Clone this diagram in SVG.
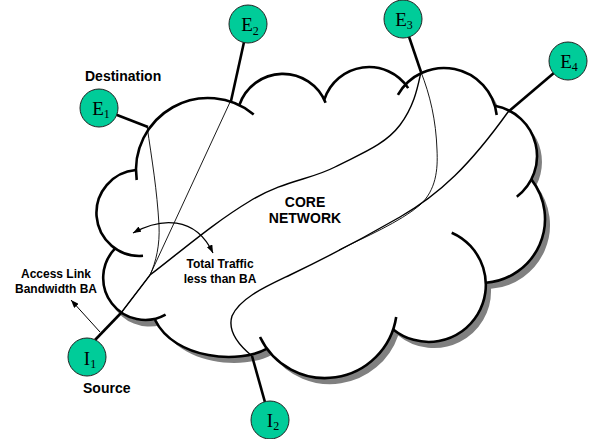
<svg xmlns="http://www.w3.org/2000/svg" width="596" height="439" viewBox="0 0 596 439">
<defs>
<style>
.lobe{fill:none;stroke:#000;stroke-width:2.6}
.link{stroke:#000;stroke-width:2.6;fill:none}
.thin{fill:none;stroke:#000;stroke-width:0.9}
.mid{fill:none;stroke:#000;stroke-width:1.4}
.node circle{fill:#00CC99;stroke:#222;stroke-width:1}
.nl{font-family:"Liberation Serif","Times New Roman",serif;font-size:19px;fill:#000;text-anchor:middle}
.sub{font-size:12px}
.lbl{font-family:"Liberation Sans",Arial,sans-serif;font-weight:bold;fill:#000}
.big{font-size:14px}
.small{font-size:12px}
.mc{text-anchor:middle}
</style>
<marker id="ah" viewBox="0 0 8 6" refX="8" refY="3" markerWidth="8" markerHeight="6" markerUnits="userSpaceOnUse" orient="auto-start-reverse"><path d="M0,0 L8,3 L0,6 z" fill="#000"/></marker>
</defs>

<g id="cloud">
<path transform="translate(5,6)" fill="#808080" d="M136,170 A72,72 0 0 1 239.3,105.2 A46,46 0 0 1 324.3,99.6 A47,47 0 0 1 405.6,84.4 A53,53 0 0 1 494.8,105.8 A51,51 0 0 1 531.3,179.4 A64,64 0 0 1 486,282.8 A57,57 0 0 1 393.2,329.4 A72,72 0 0 1 267,348.7 C240,364 175,360 156,319 A42,42 0 0 1 115,248.7 A43,43 0 0 1 136,170 Z"/>
<path fill="#fff" d="M136,170 A72,72 0 0 1 239.3,105.2 A46,46 0 0 1 324.3,99.6 A47,47 0 0 1 405.6,84.4 A53,53 0 0 1 494.8,105.8 A51,51 0 0 1 531.3,179.4 A64,64 0 0 1 486,282.8 A57,57 0 0 1 393.2,329.4 A72,72 0 0 1 267,348.7 C240,364 175,360 156,319 A42,42 0 0 1 115,248.7 A43,43 0 0 1 136,170 Z"/>
<path class="lobe" d="M136.7,180 A72,72 0 0 1 253.7,114.4"/>
<path class="lobe" d="M239.3,105.2 A46,46 0 0 1 325.6,102.8"/>
<path class="lobe" d="M324.3,99.6 A47,47 0 0 1 408.2,88.1"/>
<path class="lobe" d="M397.9,94.9 A53,53 0 0 1 496.7,115"/>
<path class="lobe" d="M494.8,105.8 A51,51 0 0 1 516.8,196.7"/>
<path class="lobe" d="M531.3,179.4 A64,64 0 0 1 486,282.8"/>
<path class="lobe" d="M451.7,232.7 A57,57 0 1 1 393.2,329.4"/>
<path class="lobe" d="M396.2,317 A72,72 0 0 1 260,337"/>
<path class="lobe" d="M267,348.7 C240,364 175,360 155,320"/>
<path class="lobe" d="M165.6,314.6 A42,42 0 0 1 115,248.7"/>
<path class="lobe" d="M143,255.8 A43,43 0 1 1 136,170"/>
</g>

<g id="connectors">
<path class="thin" d="M121,313 L150,275 C156,262 160,245 159,225 C157,190 152,160 147,126"/>
<path class="thin" d="M150,275 L231,100"/>
<path class="mid" d="M121,313 L150,275 C185,248 215,222 250,201 S310,180 335,167 S385,145 400,125 S418,85 421,72"/>
<path class="mid" d="M252,356 C241,347 227,332 232,316 C240,298 265,287 290,275 S360,240 400,217 S470,165 508,112"/>
<path class="thin" d="M339,250 C365,237 400,222 420,205 C436,190 438,170 437,150 C436,120 430,95 421,72"/>
<line class="link" x1="99" y1="108" x2="148" y2="127"/>
<line class="link" x1="248" y1="24" x2="231" y2="101"/>
<line class="link" x1="403" y1="19" x2="421" y2="72"/>
<line class="link" x1="568" y1="61" x2="508" y2="112"/>
<line class="link" x1="95" y1="340" x2="121" y2="313"/>
<line class="link" x1="270" y1="420" x2="252" y2="356"/>
<line stroke="#000" stroke-width="1" x1="100" y1="332" x2="71" y2="300" marker-end="url(#ah)"/>
<path fill="none" stroke="#000" stroke-width="1.2" d="M133,233 C160,218 195,215 213,253" marker-start="url(#ah)" marker-end="url(#ah)"/>
</g>

<g id="E1" class="node"><circle cx="99" cy="108" r="19"/><text class="nl" x="101" y="114.5">E<tspan class="sub" dy="3.5">1</tspan></text></g>
<g id="E2" class="node"><circle cx="248" cy="24" r="19"/><text class="nl" x="250" y="31">E<tspan class="sub" dy="3.5">2</tspan></text></g>
<g id="E3" class="node"><circle cx="403" cy="19" r="19"/><text class="nl" x="404" y="25.5">E<tspan class="sub" dy="3.5">3</tspan></text></g>
<g id="E4" class="node"><circle cx="568" cy="61" r="19"/><text class="nl" x="569" y="67.5">E<tspan class="sub" dy="3.5">4</tspan></text></g>
<g id="I1" class="node"><circle cx="87" cy="357" r="19"/><text class="nl" x="90" y="365">I<tspan class="sub" dy="3">1</tspan></text></g>
<g id="I2" class="node"><circle cx="270" cy="420" r="19"/><text class="nl" x="273" y="427">I<tspan class="sub" dy="3">2</tspan></text></g>

<g id="labels">
<text class="lbl big" x="85" y="81">Destination</text>
<text class="lbl big" x="83" y="393">Source</text>
<text class="lbl big mc" x="305" y="207">CORE</text>
<text class="lbl big mc" x="305" y="223">NETWORK</text>
<text class="lbl small mc" x="220" y="268">Total Traffic</text>
<text class="lbl small mc" x="220" y="283">less than BA</text>
<text class="lbl small mc" x="56" y="278">Access Link</text>
<text class="lbl small mc" x="56" y="293">Bandwidth BA</text>
</g>
</svg>
